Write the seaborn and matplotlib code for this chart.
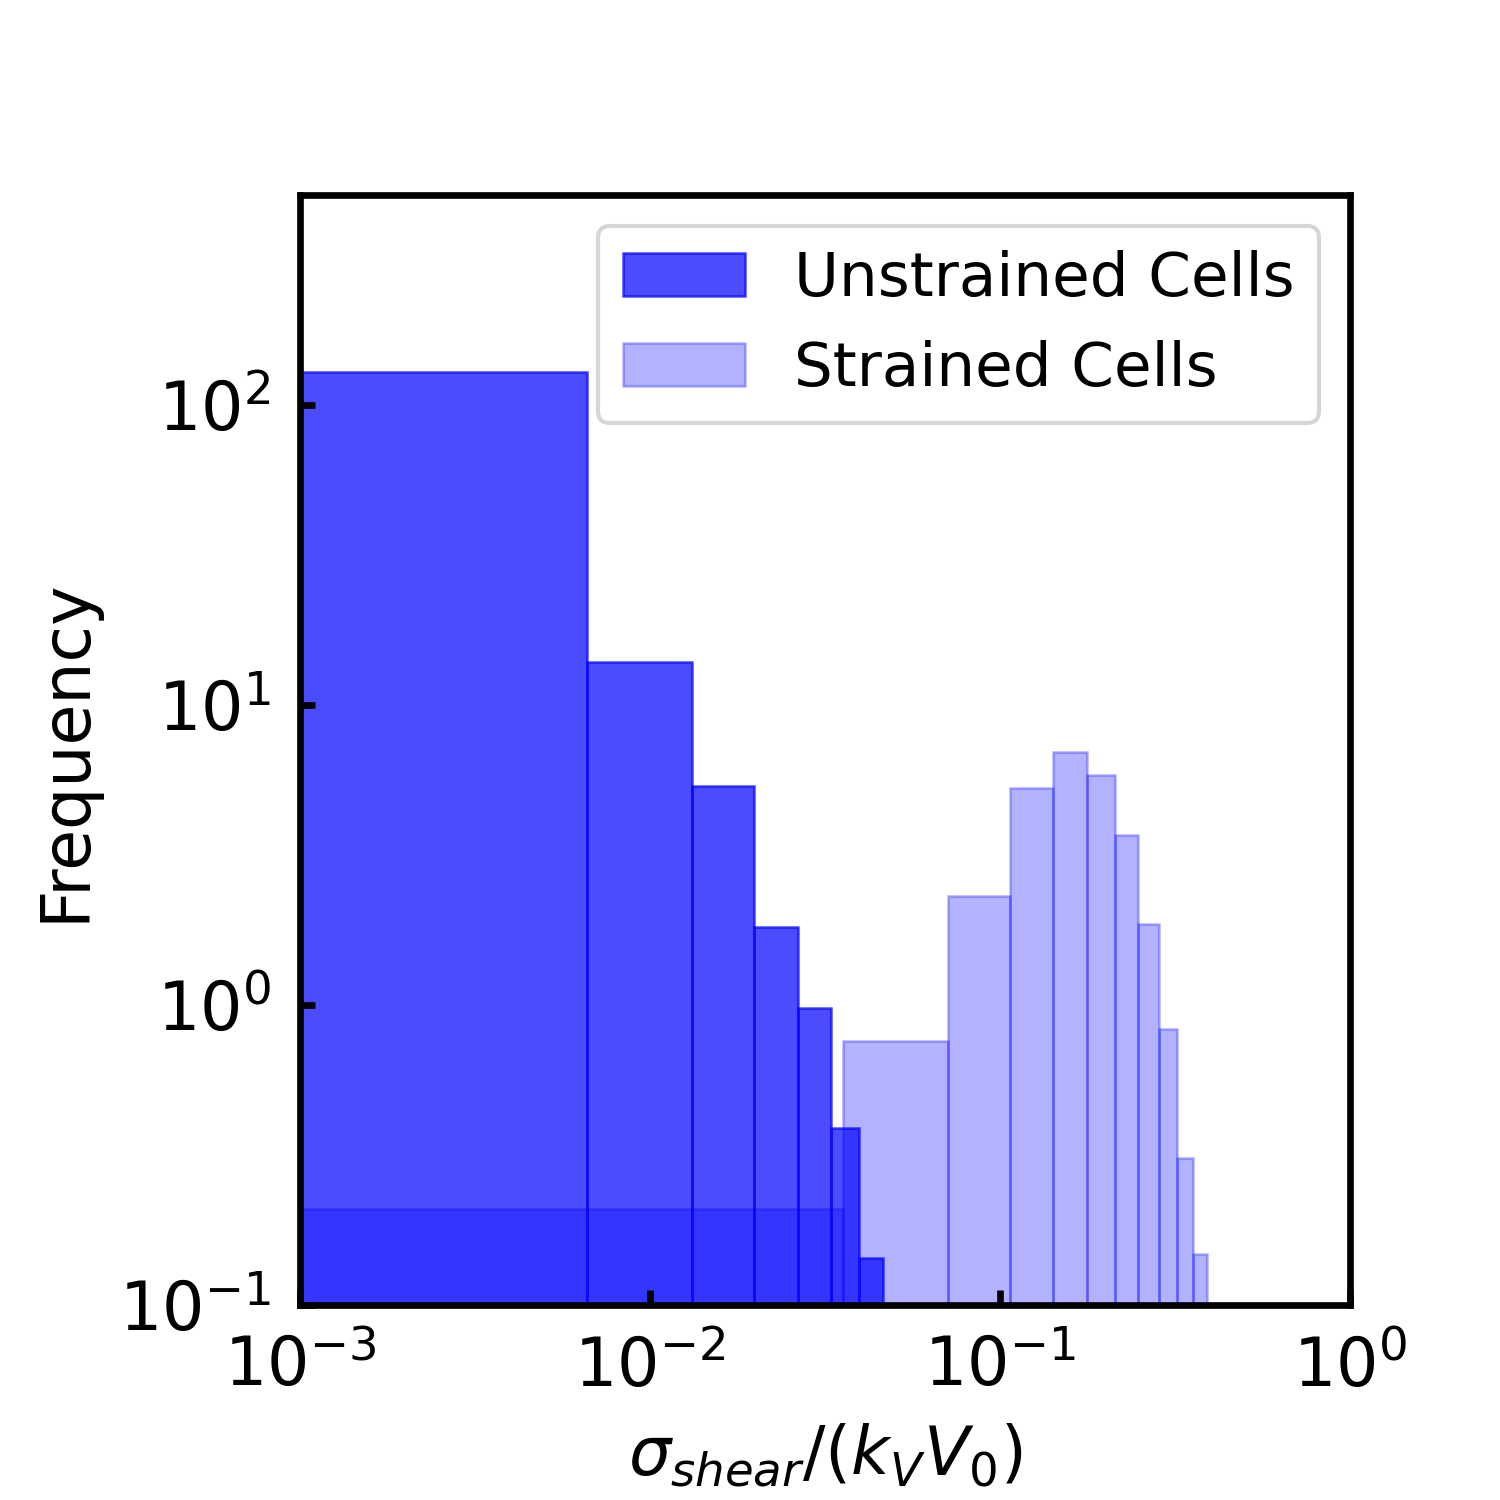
import numpy as np
import pandas as pd
import matplotlib
matplotlib.use('Agg')
import matplotlib.pyplot as plt
import seaborn as sns
from matplotlib.colors import to_rgba

# histogram bins (linear) and normalised heights
unstrained_edges = [0, 0.0066, 0.0132, 0.0198, 0.0264, 0.033, 0.0396, 0.0462]
unstrained_heights = [129, 13.9, 5.37, 1.82, 0.977, 0.389, 0.1435]

strained_edges = [0, 0.0355, 0.071, 0.1065, 0.142, 0.1775, 0.213, 0.2485,
                  0.284, 0.3195, 0.355, 0.3905]
strained_heights = [0.209, 0.759, 2.31, 5.29, 6.97, 5.84, 3.69, 1.86,
                    0.832, 0.309, 0.148]

e = np.array(unstrained_edges)
df_u = pd.DataFrame({'x': (e[:-1] + e[1:]) / 2, 'w': unstrained_heights})
e = np.array(strained_edges)
df_s = pd.DataFrame({'x': (e[:-1] + e[1:]) / 2, 'w': strained_heights})

fig, ax = plt.subplots(figsize=(5, 5), dpi=300)
fig.subplots_adjust(left=0.2, right=0.9, bottom=0.13, top=0.87)

sns.histplot(data=df_u, x='x', weights='w', bins=unstrained_edges, stat='count',
             color='blue', alpha=0.7, edgecolor=to_rgba('blue', 0.7),
             linewidth=0.6, label='Unstrained Cells', ax=ax)
sns.histplot(data=df_s, x='x', weights='w', bins=strained_edges, stat='count',
             color='blue', alpha=0.3, edgecolor=to_rgba('blue', 0.3),
             linewidth=0.6, label='Strained Cells', ax=ax)

ax.set_xscale('log')
ax.set_yscale('log')
ax.set_xlim(1e-3, 1)
ax.set_ylim(0.1, 500)
ax.minorticks_off()

ax.tick_params(direction='in', width=1.6, length=3.5, pad=7, labelsize=16)
for s in ax.spines.values():
    s.set_linewidth(1.6)

ax.set_xlabel(r'$\sigma_{shear}/(k_V V_0)$', fontsize=16, labelpad=5)
ax.set_ylabel('Frequency', fontsize=16, labelpad=5)
ax.legend(loc='upper right', fontsize=14.7)

fig.savefig('out.png', dpi=300)
